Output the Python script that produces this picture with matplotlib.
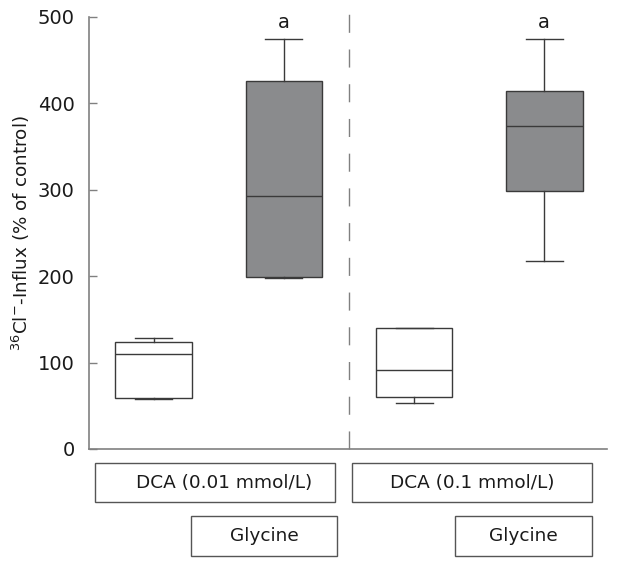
import matplotlib
matplotlib.use("Agg")
import matplotlib.pyplot as plt
from matplotlib.patches import Rectangle

# box plot stats
groups = ["DCA 0.01", "DCA 0.01 + Gly", "DCA 0.1", "DCA 0.1 + Gly"]
whislo = [57.5, 197.5, 53.6, 217.8]
q1 = [59.0, 199.0, 60.0, 298.7]
med = [109.5, 292.5, 91.0, 373.6]
q3 = [123.4, 425.6, 139.6, 414.0]
whishi = [128.7, 474.6, 140.0, 474.6]
fills = ["white", "#8a8b8d", "white", "#8a8b8d"]
marks = ["", "a", "", "a"]

yticks = [0, 100, 200, 300, 400, 500]
row1 = ["DCA (0.01 mmol/L)", "DCA (0.1 mmol/L)"]
row2 = ["Glycine", "Glycine"]

W, H = 618, 567
fig = plt.figure(figsize=(W / 100, H / 100), dpi=100)
ax = fig.add_axes([88.7 / W, 1 - 449 / H, (606.7 - 88.7) / W, (449 - 16.7) / H])

stats = []
for i in range(len(groups)):
    stats.append(dict(label=groups[i], whislo=whislo[i], q1=q1[i], med=med[i],
                      q3=q3[i], whishi=whishi[i], fliers=[]))

lc = "#3a3a3a"
bp = ax.bxp(stats, positions=[1, 2, 3, 4], widths=0.59, capwidths=0.285,
            patch_artist=True, showfliers=False,
            boxprops=dict(edgecolor=lc, linewidth=1.0),
            medianprops=dict(color=lc, linewidth=1.0),
            whiskerprops=dict(color=lc, linewidth=1.0),
            capprops=dict(color=lc, linewidth=1.0))
for patch, c in zip(bp["boxes"], fills):
    patch.set_facecolor(c)

for i, m in enumerate(marks):
    if m:
        ax.text(i + 1, whishi[i] + 8, m, ha="center", va="bottom", fontsize=14, color="#1a1a1a")

# dashed separator
ax.plot([2.5, 2.5], [0, 507], ls=(0, (13, 12)), color="#808080", lw=1.0, clip_on=False)

ax.set_xlim(0.5, 4.48)
ax.set_ylim(0, 500)
ax.set_yticks(yticks)
ax.set_xticks([])
ax.tick_params(axis="y", direction="in", length=6, width=1, color="#808080",
               labelsize=14, pad=10, labelcolor="#1a1a1a")
for s in ["top", "right"]:
    ax.spines[s].set_visible(False)
for s in ["left", "bottom"]:
    ax.spines[s].set_color("#808080")
    ax.spines[s].set_linewidth(1.2)

ax.set_ylabel(r"$^{36}$Cl$^{-}$-Influx (% of control)", fontsize=13.2, color="#1a1a1a", labelpad=4)

# treatment label boxes below the axis (pixel layout)
def label_box(x0, x1, y0, y1, txt, tx):
    fig.patches.append(Rectangle((x0 / W, 1 - y1 / H), (x1 - x0) / W, (y1 - y0) / H,
                                 transform=fig.transFigure, fill=False,
                                 edgecolor="#555555", linewidth=1.0))
    fig.text(tx / W, 1 - (y0 + y1) / 2 / H, txt, ha="center", va="center",
             fontsize=13.3, color="#1a1a1a")

label_box(95, 335.3, 462.7, 502.3, row1[0], 224)
label_box(351.7, 592.3, 462.7, 502.3, row1[1], 472)
label_box(191, 336.7, 516, 555.7, row2[0], 264)
label_box(454.7, 592.3, 516, 555.7, row2[1], 523.5)

fig.savefig("out.png", dpi=100)
